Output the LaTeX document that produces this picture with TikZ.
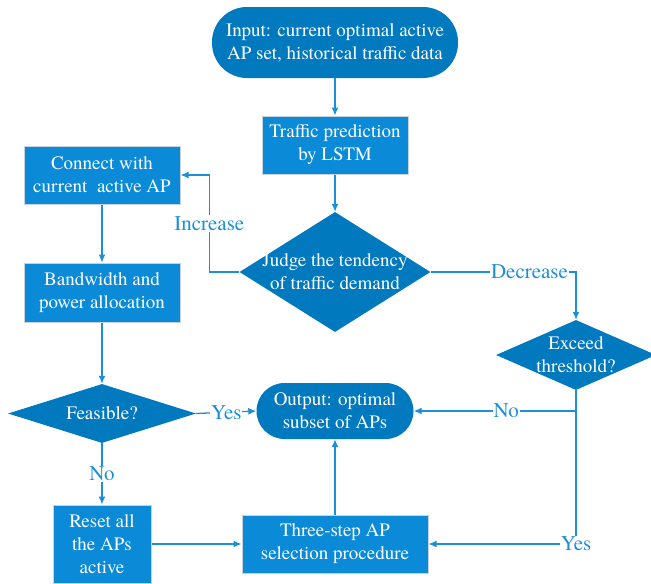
\documentclass[tikz,border=0pt]{standalone}
\usepackage{fontspec}
\setmainfont{texgyretermes}[Extension=.otf, UprightFont=*-regular, BoldFont=*-bold, ItalicFont=*-italic, BoldItalicFont=*-bolditalic]
\usetikzlibrary{shapes.geometric,arrows.meta}
\definecolor{boxblue}{HTML}{0A8AD7}
\definecolor{darkblue}{HTML}{0079BF}
\definecolor{lineblue}{HTML}{1C8FDA}
\definecolor{edgegray}{HTML}{C8D2DC}
\begin{document}
\begin{tikzpicture}[x=1pt, y=-1pt,
		box/.style={rectangle, fill=boxblue, draw=edgegray, line width=1pt, text=white, align=center, inner sep=0pt, font=\fontsize{19}{23}\selectfont},
		term/.style={rectangle, fill=darkblue, text=white, align=center, inner sep=0pt, font=\fontsize{19}{23}\selectfont},
		decision/.style={diamond, fill=darkblue, inner sep=0pt},
		txt/.style={text=white, align=center, inner sep=0pt, font=\fontsize{19}{23}\selectfont},
		flow/.style={draw=lineblue, line width=1.3pt, -{Latex[length=8pt,width=7pt]}},
		lbl/.style={fill=white, text=lineblue, inner sep=1pt, font=\fontsize{21}{23}\selectfont}]
		\useasboundingbox (0,0) rectangle (651,584);
		
		\node[term, minimum width=246, minimum height=71, rounded corners=35pt] (input) at (335,42.5) {Input: current optimal active\\AP set, historical traffic data};
		\node[box, minimum width=146, minimum height=58] (traffic) at (335,145) {Traffic prediction\\by LSTM};
		\node[box, minimum width=156, minimum height=58] (connect) at (102,175) {Connect with\\current\ \ active AP};
		\node[decision, minimum width=191, minimum height=120] (judge) at (335,272) {};
		\node[txt] (judgetxt) at (judge) {Judge the tendency\\of traffic demand};
		\node[box, minimum width=156, minimum height=59] (bandwidth) at (102,292.5) {Bandwidth and\\power allocation};
		\node[decision, minimum width=160, minimum height=70] (exceed) at (576,355) {};
		\node[txt] (exceedtxt) at (exceed) {Exceed\\threshold?};
		\node[decision, minimum width=188, minimum height=59] (feasible) at (102,413.5) {};
		\node[txt] (feasibletxt) at (feasible) {Feasible?};
		\node[term, minimum width=157, minimum height=56, rounded corners=28pt] (output) at (335,411) {Output: optimal\\subset of APs};
		\node[box, minimum width=98, minimum height=78] (reset) at (102,544) {Reset all\\the APs\\active};
		\node[box, minimum width=186, minimum height=58] (three) at (335,544) {Three-step AP\\selection procedure};
		
		\draw[flow] (input) -- (traffic);
		\draw[flow] (traffic) -- (judge);
		\draw[flow] (judge.west) -- ++(-30,0) |- (connect.east) node[lbl, pos=0.25] {Increase};
		\draw[flow] (judge.east) -| (exceed.north) node[lbl, pos=0.34] {Decrease};
		\draw[flow] (connect) -- (bandwidth);
		\draw[flow] (bandwidth) -- (feasible.north);
		\draw[flow] (feasible.east) -- (output.west) node[lbl, midway] {Yes};
		\draw[flow] (feasible.south) -- (reset.north) node[lbl, midway] {No};
		\draw[flow] (reset) -- (three);
		\draw[flow] (three) -- (output);
		\draw[flow] (exceed.south) |- (three.east) node[lbl, pos=0.5] {Yes};
		\draw[flow] (exceed.south |- output.east) -- (output.east) node[lbl, pos=0.43] {No};
	\end{tikzpicture}
\end{document}
